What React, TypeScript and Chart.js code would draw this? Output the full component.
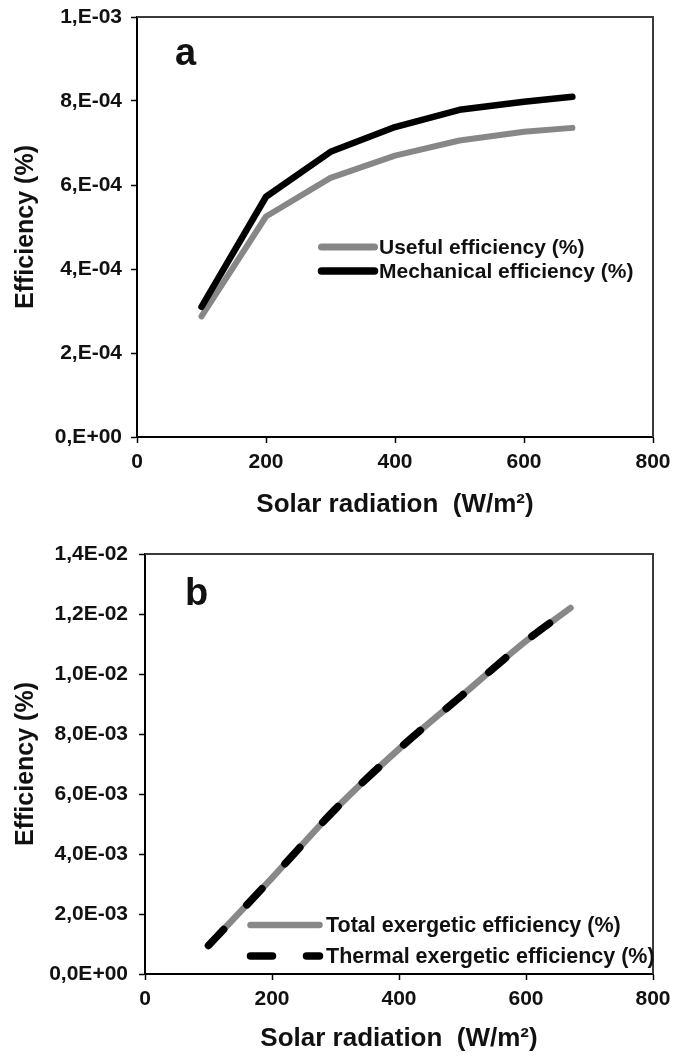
import React, { useEffect, useRef } from 'react';
import { Chart, registerables } from 'chart.js';

Chart.register(...registerables);

// ---------- data: panel a ----------
const solarA = [100, 200, 300, 400, 500, 600, 675];
const usefulEfficiency = [2.87e-4, 5.25e-4, 6.17e-4, 6.7e-4, 7.06e-4, 7.27e-4, 7.36e-4];
const mechanicalEfficiency = [3.1e-4, 5.72e-4, 6.79e-4, 7.38e-4, 7.79e-4, 7.98e-4, 8.1e-4];
const yTickValuesA = [0, 2e-4, 4e-4, 6e-4, 8e-4, 1e-3];
const yTickLabelsA = ['0,E+00', '2,E-04', '4,E-04', '6,E-04', '8,E-04', '1,E-03'];

// ---------- data: panel b ----------
const solarB = [100, 200, 300, 400, 500, 600, 670];
const totalExergeticEfficiency = [0.95e-3, 3.2e-3, 5.5e-3, 7.5e-3, 9.3e-3, 11.1e-3, 12.2e-3];
const thermalExergeticEfficiency = [0.95e-3, 3.2e-3, 5.5e-3, 7.5e-3, 9.3e-3, 11.1e-3, 12.2e-3];
const yTickValuesB = [0, 2e-3, 4e-3, 6e-3, 8e-3, 1e-2, 1.2e-2, 1.4e-2];
const yTickLabelsB = ['0,0E+00', '2,0E-03', '4,0E-03', '6,0E-03', '8,0E-03', '1,0E-02', '1,2E-02', '1,4E-02'];

// ---------- shared x axis ----------
const xTickValues = [0, 200, 400, 600, 800];
const xTickLabels = ['0', '200', '400', '600', '800'];

const SANS = '"Liberation Sans", Arial, sans-serif';
const TEXT = '#111111';

const annotPlugin = {
  id: 'annot',
  afterDraw(chart: any, _args: any, opts: any) {
    const { ctx, chartArea } = chart;
    ctx.save();
    // frame top & right
    ctx.strokeStyle = '#3a3a3a';
    ctx.lineWidth = 2;
    ctx.beginPath();
    ctx.moveTo(chartArea.left, chartArea.top);
    ctx.lineTo(chartArea.right, chartArea.top);
    ctx.lineTo(chartArea.right, chartArea.bottom);
    ctx.stroke();
    // panel letter
    ctx.fillStyle = TEXT;
    ctx.font = `bold 38px ${SANS}`;
    ctx.textBaseline = 'alphabetic';
    ctx.textAlign = 'left';
    ctx.fillText(opts.label, opts.labelX, opts.labelY);
    // legend
    const lg = opts.legend;
    chart.data.datasets.forEach((ds: any, i: number) => {
      const y = lg.ys[i];
      ctx.save();
      ctx.strokeStyle = ds.borderColor;
      ctx.lineWidth = ds.borderWidth + (lg.extraWidth || 0);
      ctx.lineCap = 'round';
      ctx.setLineDash(ds.borderDash || []);
      ctx.beginPath();
      ctx.moveTo(lg.x0, y);
      ctx.lineTo(lg.x1, y);
      ctx.stroke();
      ctx.restore();
      ctx.fillStyle = TEXT;
      ctx.font = lg.font;
      ctx.textBaseline = 'middle';
      ctx.fillText(ds.label, lg.textX, y + lg.textDy);
    });
    ctx.restore();
  },
};

function makeConfig(p: any): any {
  return {
    type: 'line',
    data: {
      datasets: p.datasets,
    },
    options: {
      animation: false,
      responsive: false,
      maintainAspectRatio: false,
      layout: { padding: { top: p.padTop, right: 20, left: 0, bottom: 0 } },
      elements: { point: { radius: 0, hoverRadius: 0 } },
      plugins: {
        legend: { display: false },
        tooltip: { enabled: false },
        annot: p.annot,
      },
      scales: {
        x: {
          type: 'linear',
          min: 0,
          max: 800,
          afterBuildTicks: (s: any) => {
            s.ticks = xTickValues.map((v) => ({ value: v }));
          },
          afterFit: (s: any) => {
            s.height = p.xHeight;
            s.paddingLeft = 0;
            s.paddingRight = 0;
          },
          ticks: {
            callback: (_v: any, i: number) => xTickLabels[i],
            font: { family: SANS, size: 21, weight: 'bold', lineHeight: 1.2 },
            color: TEXT,
            padding: 7,
            maxRotation: 0,
            autoSkip: false,
          },
          grid: { drawOnChartArea: false, drawTicks: true, tickLength: 6, tickColor: '#000', tickWidth: 1.5 },
          border: { display: true, color: '#000', width: 2 },
          title: {
            display: true,
            text: 'Solar radiation  (W/m²)',
            font: { family: SANS, size: 26, weight: 'bold', lineHeight: 1.2 },
            color: TEXT,
            padding: { top: 0, bottom: p.xTitlePad },
          },
        },
        y: {
          type: 'linear',
          min: 0,
          max: p.yMax,
          afterBuildTicks: (s: any) => {
            s.ticks = p.yVals.map((v: number) => ({ value: v }));
          },
          afterFit: (s: any) => {
            s.width = p.yWidth;
            s.paddingTop = 0;
            s.paddingBottom = 0;
          },
          ticks: {
            callback: (_v: any, i: number) => p.yLabels[i],
            font: { family: SANS, size: 21, weight: 'bold' },
            color: TEXT,
            padding: p.yTickPad,
          },
          grid: { drawOnChartArea: false, drawTicks: true, tickLength: 6, tickColor: '#000', tickWidth: 1.5 },
          border: { display: true, color: '#000', width: 2 },
          title: {
            display: true,
            text: 'Efficiency (%)',
            font: { family: SANS, size: 25, weight: 'bold', lineHeight: 1.2 },
            color: TEXT,
            padding: { top: 11, bottom: 0 },
          },
        },
      },
    },
    plugins: [annotPlugin],
  };
}

function ChartCanvas({ build, top }: { build: () => any; top: number }) {
  const ref = useRef<HTMLCanvasElement | null>(null);
  useEffect(() => {
    if (!ref.current) return;
    const chart = new Chart(ref.current, build());
    return () => chart.destroy();
  }, []);
  return (
    <canvas
      ref={ref}
      width={673}
      height={528}
      style={{ position: 'absolute', left: 0, top, width: 673, height: 528 }}
    />
  );
}

const buildA = () =>
  makeConfig({
    padTop: 17,
    xHeight: 91,
    yWidth: 137,
    yTickPad: 9,
    xTitlePad: 8,
    yMax: 1e-3,
    yVals: yTickValuesA,
    yLabels: yTickLabelsA,
    datasets: [
      {
        label: 'Useful efficiency (%)',
        data: solarA.map((x, i) => ({ x, y: usefulEfficiency[i] })),
        borderColor: '#878787',
        borderWidth: 6,
        borderCapStyle: 'round',
        borderJoinStyle: 'round',
        tension: 0,
        order: 1,
      },
      {
        label: 'Mechanical efficiency (%)',
        data: solarA.map((x, i) => ({ x, y: mechanicalEfficiency[i] })),
        borderColor: '#000000',
        borderWidth: 6.5,
        borderCapStyle: 'round',
        borderJoinStyle: 'round',
        tension: 0,
        order: 0,
      },
    ],
    annot: {
      label: 'a',
      labelX: 175,
      labelY: 65,
      legend: {
        x0: 321.5,
        x1: 374.5,
        ys: [247, 271],
        textX: 379,
        textDy: 1,
        extraWidth: 1,
        font: `bold 21px ${SANS}`,
      },
    },
  });

const buildB = () =>
  makeConfig({
    padTop: 26,
    xHeight: 82,
    yWidth: 145,
    yTickPad: 11,
    xTitlePad: 2,
    yMax: 1.4e-2,
    yVals: yTickValuesB,
    yLabels: yTickLabelsB,
    datasets: [
      {
        label: 'Total exergetic efficiency (%)',
        data: solarB.map((x, i) => ({ x, y: totalExergeticEfficiency[i] })),
        borderColor: '#888888',
        borderWidth: 6.5,
        borderCapStyle: 'round',
        borderJoinStyle: 'round',
        cubicInterpolationMode: 'monotone',
        order: 1,
      },
      {
        label: 'Thermal exergetic efficiency (%)',
        data: solarB.map((x, i) => ({ x, y: thermalExergeticEfficiency[i] })),
        borderColor: '#000000',
        borderWidth: 7.5,
        borderDash: [22, 34],
        borderCapStyle: 'round',
        borderJoinStyle: 'round',
        cubicInterpolationMode: 'monotone',
        order: 0,
      },
    ],
    annot: {
      label: 'b',
      labelX: 185,
      labelY: 77,
      legend: {
        x0: 250.5,
        x1: 319.5,
        ys: [397, 428],
        textX: 326,
        textDy: 1,
        extraWidth: 0,
        font: `bold 21.5px ${SANS}`,
      },
    },
  });

export default function App() {
  return (
    <div style={{ position: 'absolute', left: 0, top: 0, width: 673, height: 1056, background: '#fff' }}>
      <ChartCanvas build={buildA} top={0} />
      <ChartCanvas build={buildB} top={528} />
    </div>
  );
}
